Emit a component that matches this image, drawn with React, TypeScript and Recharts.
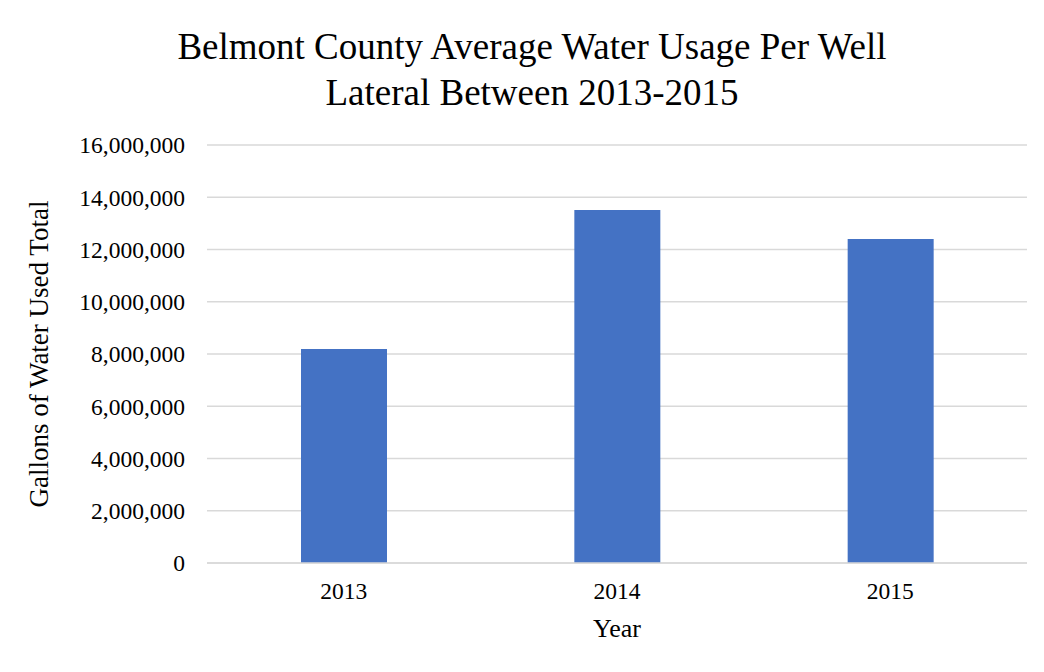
import React from 'react';
import { BarChart, Bar, XAxis, YAxis, CartesianGrid, Label } from 'recharts';

// Average water usage per well lateral, Belmont County
const years = ['2013', '2014', '2015'];
const gallons = [8190000, 13510000, 12400000];
const yTicks = [0, 2000000, 4000000, 6000000, 8000000, 10000000, 12000000, 14000000, 16000000];

const titleLines = ['Belmont County Average Water Usage Per Well', 'Lateral Between 2013-2015'];

const data = years.map((year, i) => ({ year, gallons: gallons[i] }));

const FONT = '"Liberation Serif", "Times New Roman", serif';
const fmt = (v: number) => v.toLocaleString('en-US');

export default function App() {
  return (
    <div style={{ position: 'relative', width: 1044, height: 672, margin: -8, background: '#fff', overflow: 'hidden', fontFamily: FONT }}>
      <div style={{ position: 'absolute', left: 6, top: 5, width: 1060, height: 700, border: '1px solid #d9d9d9' }} />
      <div style={{ position: 'absolute', left: 0, top: 24, width: 1064, textAlign: 'center', fontSize: 37, lineHeight: '46px', color: '#000' }}>
        {titleLines.map((l) => (
          <div key={l}>{l}</div>
        ))}
      </div>
      <div style={{ position: 'absolute', left: 0, top: 0 }}>
        <BarChart width={1044} height={672} data={data} margin={{ top: 145, right: 17, bottom: 0, left: 0 }} barSize={86}>
          <CartesianGrid vertical={false} stroke="#d9d9d9" strokeWidth={1.5} />
          <XAxis
            dataKey="year"
            height={109}
            axisLine={{ stroke: '#d9d9d9', strokeWidth: 1.5 }}
            tickLine={false}
            tickSize={0}
            tickMargin={19}
            tick={{ fill: '#000', fontSize: 23.5, fontFamily: FONT }}
          >
            <Label value="Year" position="insideBottom" offset={35} style={{ fill: '#000', fontSize: 26, fontFamily: FONT }} />
          </XAxis>
          <YAxis
            width={207}
            domain={[0, 16000000]}
            ticks={yTicks}
            tickFormatter={fmt}
            axisLine={false}
            tickLine={false}
            tickSize={0}
            tickMargin={22}
            tick={{ fill: '#000', fontSize: 23.5, fontFamily: FONT }}
          >
            <Label value="Gallons of Water Used Total" angle={-90} position="insideLeft" offset={38} style={{ textAnchor: 'middle', fill: '#000', fontSize: 27, fontFamily: FONT }} />
          </YAxis>
          <Bar dataKey="gallons" fill="#4472c4" isAnimationActive={false} />
        </BarChart>
      </div>
    </div>
  );
}
